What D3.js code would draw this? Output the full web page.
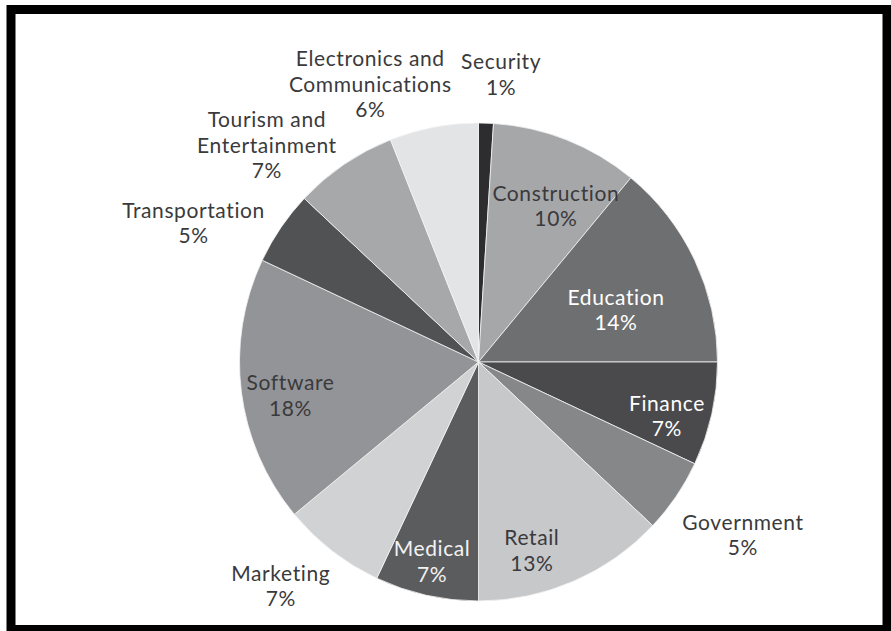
<!DOCTYPE html>
<html>
<head>
<meta charset="utf-8">
<script src="https://cdn.jsdelivr.net/npm/d3@7"></script>
<style>
  html, body { margin: 0; padding: 0; background: #fff; }
  svg { display: block; }
  text { font-family: Lato, "Noto Sans", sans-serif; font-weight: 400; letter-spacing: 0.6px; }
</style>
</head>
<body>
<svg id="chart" width="891" height="631"></svg>
<script>
// Industry share (percent), clockwise from 12 o'clock
const industries = [
  ["Security"],
  ["Construction"],
  ["Education"],
  ["Finance"],
  ["Government"],
  ["Retail"],
  ["Medical"],
  ["Marketing"],
  ["Software"],
  ["Transportation"],
  ["Tourism and", "Entertainment"],
  ["Electronics and", "Communications"]
];
const shares = [1, 10, 14, 7, 5, 13, 7, 7, 18, 5, 7, 6];

// Grey fill per slice, and label ink
const fills = ["#2d2d2f", "#a6a7a9", "#6e6f71", "#4a4a4c", "#868789", "#c7c8ca",
               "#5b5c5e", "#d1d2d4", "#939497", "#515254", "#a7a8aa", "#e3e4e6"];
const inks  = ["#3a3a3c", "#3a3a3c", "#ffffff", "#ffffff", "#3a3a3c", "#3a3a3c",
               "#f2f2f2", "#3a3a3c", "#3a3a3c", "#3a3a3c", "#3a3a3c", "#3a3a3c"];

// Label anchor: distance from centre and angle (degrees, clockwise from top)
const labelRadius = [288, 174, 147, 196, 316, 196, 205, 299, 191, 317, 303, 298];
const labelAngle  = [4.5, 26.4, 69.3, 106, 123.2, 164.2, 193.1, 221.4, 259.8, 296, 315.7, 338.7];

const cx = 478.5, cy = 362, R = 239;
const lineH = 25.5;

const svg = d3.select("#chart");

// Outer frame
svg.append("rect")
  .attr("x", 11).attr("y", 9.5)
  .attr("width", 876).attr("height", 620)
  .attr("fill", "none")
  .attr("stroke", "#000")
  .attr("stroke-width", 9);

const data = shares.map((v, i) => ({ name: industries[i], value: v, i }));

const pie = d3.pie().value(d => d.value).sort(null);
const arc = d3.arc().innerRadius(0).outerRadius(R);

const g = svg.append("g").attr("transform", `translate(${cx},${cy})`);

g.selectAll("path.slice")
  .data(pie(data))
  .join("path")
  .attr("class", "slice")
  .attr("d", arc)
  .attr("fill", d => fills[d.data.i])
  .attr("stroke", "#f4f4f4")
  .attr("stroke-width", 0.8);

// Labels: name lines plus percentage
const toRad = Math.PI / 180;
const labels = g.selectAll("text.label")
  .data(data)
  .join("text")
  .attr("class", "label")
  .attr("text-anchor", "middle")
  .attr("font-size", 21)
  .attr("fill", d => inks[d.i])
  .attr("transform", d => {
    const a = labelAngle[d.i] * toRad, r = labelRadius[d.i];
    return `translate(${r * Math.sin(a)},${-r * Math.cos(a)})`;
  });

labels.each(function (d) {
  const lines = d.name.concat([d.value + "%"]);
  const n = lines.length;
  const t = d3.select(this);
  lines.forEach((s, k) => {
    t.append("tspan")
      .attr("x", 0)
      .attr("y", (k - (n - 1) / 2) * lineH)
      .attr("dy", "0.35em")
      .text(s);
  });
});
</script>
</body>
</html>
